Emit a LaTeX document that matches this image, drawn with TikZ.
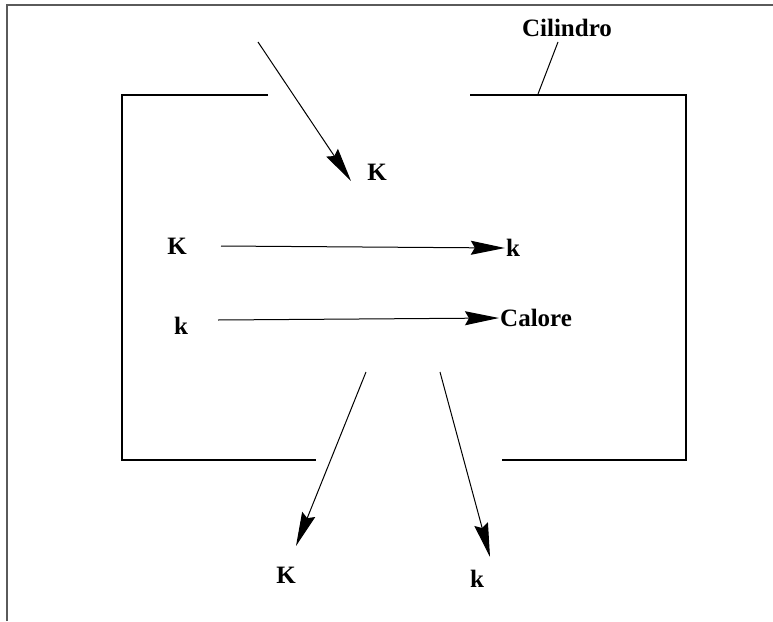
\documentclass[tikz,border=0pt]{standalone}
\usepackage{fontspec}
\setmainfont{Liberation Serif}
\usetikzlibrary{arrows.meta, positioning}
\definecolor{framegray}{RGB}{90, 90, 90}

\begin{document}
\begin{tikzpicture}[
    x=1pt, y=-1pt,
    font=\fontsize{25}{27}\selectfont\bfseries,
    % Style definitions
    lbl/.style={inner sep=1pt, anchor=center},
    wall/.style={line width=1.4pt, black},
    flow/.style={-{Stealth[length=34pt, width=14pt, inset=4pt]}, line width=1pt},
    leader/.style={line width=1pt}
]
    \useasboundingbox (0,0) rectangle (773,621);

    % === FRAME ===
    \draw [framegray, line width=2pt] (7,621) -- (7,5) -- (773,5);

    % === CYLINDER ===
    \draw [wall] (268,95) -- (122,95) -- (122,460) -- (316,460);
    \draw [wall] (470,95) -- (686,95) -- (686,460) -- (502,460);

    \node (cil) [lbl] at (567,28) {Cilindro};
    \coordinate (cilfoot) at (558,42);
    \coordinate (cilwall) at (538,94);
    \draw [leader] (cilfoot) -- (cilwall);

    % === INFLOW ===
    \coordinate (inA) at (258,42);
    \node (Kin) [lbl] at (377,172) {K};
    \draw [flow] (inA) -- (351,181);

    % === REACTIONS ===
    \node (K1) [lbl] at (177,246) {K};
    \node (k1) [lbl] at (513,248) {k};
    \coordinate (r1start) at (221,246);
    \draw [flow] (r1start) -- (k1.west);

    \node (k2) [lbl] at (181,326) {k};
    \node (cal) [lbl, anchor=west] at (499,318) {Calore};
    \coordinate (r2start) at (218,320);
    \draw [flow] (r2start) -- (cal.west);

    % === OUTFLOW ===
    \coordinate (outA) at (366,372);
    \coordinate (outB) at (440,372);
    \node (Kout) [lbl] at (286,575) {K};
    \node (kout) [lbl] at (477,579) {k};
    \draw [flow] (outA) -- (296,546);
    \draw [flow] (outB) -- (490,557);

\end{tikzpicture}
\end{document}
